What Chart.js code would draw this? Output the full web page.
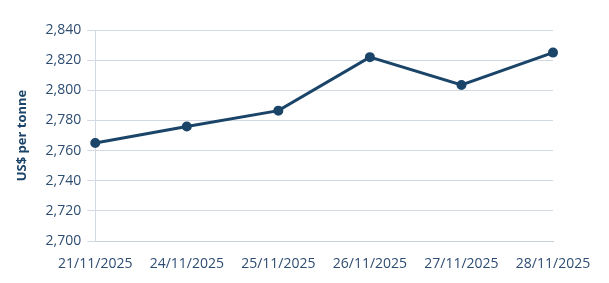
<!DOCTYPE html>
<html><head><meta charset="utf-8">
<script src="https://cdn.jsdelivr.net/npm/chart.js@4"></script>
<style>html,body{margin:0;padding:0;background:#fff}#w{width:609px;height:283px}</style>
</head><body><div id="w"><canvas id="c"></canvas></div>
<script>
const categories = ["21/11/2025","24/11/2025","25/11/2025","26/11/2025","27/11/2025","28/11/2025"];
const prices = [2765, 2776, 2786.5, 2822, 2803.5, 2825];
const yTicks = [2700, 2720, 2740, 2760, 2780, 2800, 2820, 2840];
const navy = '#1b4469';
const textCol = '#2e4d72';
new Chart(document.getElementById('c'), {
  type: 'line',
  data: { labels: categories, datasets: [{ data: prices, borderColor: navy, backgroundColor: navy, borderWidth: 3, pointRadius: 3.5, pointHoverRadius: 3.5, tension: 0 }] },
  options: {
    responsive: true, maintainAspectRatio: false, animation: false,
    layout: { padding: { top: 30, right: 56, left: 10, bottom: -4 } },
    plugins: { legend: { display: false }, tooltip: { enabled: false } },
    scales: {
      x: {
        offset: false,
        grid: { display: false, drawTicks: false },
        border: { display: true, color: '#c8d0dc', width: 1 },
        ticks: { color: textCol, font: { family: 'Open Sans', size: 14, lineHeight: 1 }, maxRotation: 0, padding: 16 }
      },
      y: {
        min: 2700, max: 2840,
        afterBuildTicks: (s) => { s.ticks = yTicks.map(v => ({ value: v })); },
        grid: { color: '#d3d9e2', tickLength: 8, drawTicks: true },
        border: { display: true, color: '#d3d9e2' },
        ticks: { color: textCol, font: { family: 'Open Sans', size: 14 }, padding: 6,
                 callback: (v) => v.toLocaleString('en-US') },
        title: { display: true, text: 'US$ per tonne', color: navy, font: { family: 'Open Sans', size: 13, weight: 'bold' }, padding: { bottom: 10 } }
      }
    }
  }
});
</script></body></html>
